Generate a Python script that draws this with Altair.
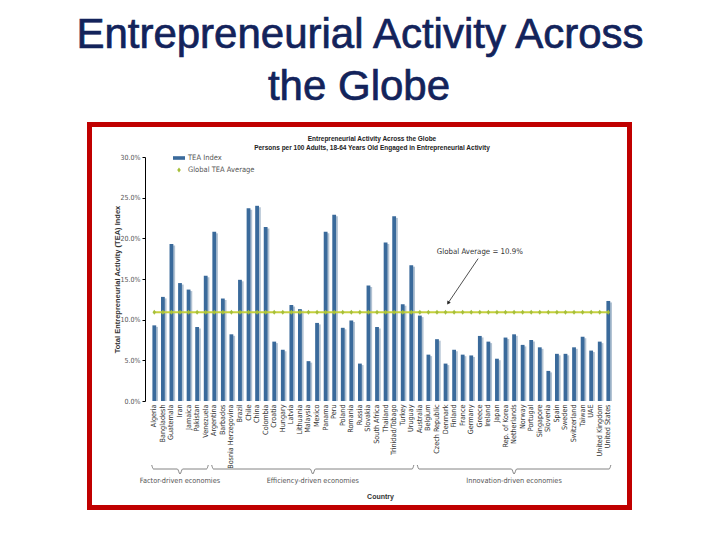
import altair as alt
import pandas as pd

# ---------------- data ----------------
countries = [
    "Algeria", "Bangladesh", "Guatemala", "Iran", "Jamaica", "Pakistan", "Venezuela",
    "Argentina", "Barbados", "Bosnia Herzegovina", "Brazil", "Chile", "China", "Colombia",
    "Croatia", "Hungary", "Latvia", "Lithuania", "Malaysia", "Mexico", "Panama", "Peru",
    "Poland", "Romania", "Russia", "Slovakia", "South Africa", "Thailand", "Trinidad/Tobago",
    "Turkey", "Uruguay",
    "Australia", "Belgium", "Czech Republic", "Denmark", "Finland", "France", "Germany",
    "Greece", "Ireland", "Japan", "Rep. of Korea", "Netherlands", "Norway", "Portugal",
    "Singapore", "Slovenia", "Spain", "Sweden", "Switzerland", "Taiwan", "UAE",
    "United Kingdom", "United States",
]
tea = [
    9.3, 12.8, 19.3, 14.5, 13.7, 9.1, 15.4,
    20.8, 12.6, 8.2, 14.9, 23.7, 24.0, 21.4, 7.3, 6.3, 11.8, 11.3, 4.9, 9.6, 20.8, 22.9,
    9.0, 9.9, 4.6, 14.2, 9.1, 19.5, 22.7, 11.9, 16.7,
    10.5, 5.7, 7.6, 4.6, 6.3, 5.7, 5.6, 8.0, 7.3, 5.2, 7.8, 8.2, 6.9, 7.5, 6.6, 3.7, 5.8,
    5.8, 6.6, 7.9, 6.2, 7.3, 12.3,
]
global_avg = 10.9
groups = ["Factor-driven economies", "Efficiency-driven economies", "Innovation-driven economies"]
group_sizes = [7, 24, 23]
series = ["TEA Index", "Global TEA Average"]

# ---------------- layout constants ----------------
N = len(countries)
STEP = 8.566
PO = 0.586
W = STEP * (N + 2 * PO)
H = 244
PAD_L, PAD_T = 137, 149
PAD_R = 704 - PAD_L - W
PAD_B = 524 - PAD_T - H
HALF = 1.9 / STEP     # half bar width, in band units
SHADOW = 1.8 / STEP   # shadow bar shift, in band units

DARK = "#3a6a9b"
LIGHT = "#b3c3d3"
LINE = "#c6d03e"
DOT = "#a6bf3a"
NAVY = "#13235b"
SMALL = "Liberation Sans Narrow, DejaVu Sans Condensed, Liberation Sans"

bars_df = pd.DataFrame({"country": countries, "tea": tea, "series": series[0],
                        "idx": list(range(N))})
avg_df = pd.DataFrame({"country": countries, "avg": [global_avg] * N, "series": series[1]})

xscale = alt.Scale(type="band", domain=countries, paddingInner=0, paddingOuter=PO)
ixscale = alt.Scale(domain=[-0.5 - PO, N - 0.5 + PO], nice=False, zero=False)
yscale = alt.Scale(domain=[0, 30], nice=False, zero=True)
color_scale = alt.Scale(domain=series, range=[DARK, DOT])
shape_scale = alt.Scale(domain=series, range=["M-1,-0.3H1V0.3H-1Z", "M0,-0.42L0.3,0L0,0.42L-0.3,0Z"])
leg = alt.Legend(
    title=None, orient="none", legendX=28, legendY=-5, symbolSize=144, padding=0,
    rowPadding=2, labelFont=SMALL, labelFontSize=7.5, labelColor="#555", labelOffset=3,
    symbolStrokeWidth=0,
)

xenc = alt.X(
    "country:N", scale=xscale, sort=countries,
    axis=alt.Axis(
        title="Country", labelAngle=-90, labelPadding=3, labelFont=SMALL, labelFontSize=7.2,
        labelColor="#333", domain=False, ticks=False, titleX=235, titleY=95,
        titleBaseline="middle", titleFont="Liberation Sans", titleFontSize=7,
        titleFontWeight="bold", titleColor="#333",
    ),
)
yaxis = alt.Axis(
    title="Total Entrepreneurial Activity (TEA) Index", values=[0, 5, 10, 15, 20, 25, 30],
    labelExpr="format(datum.value, '.1f') + '%'", grid=False, tickSize=3, tickColor="#000",
    domainColor="#000", domainWidth=1, labelPadding=2, labelFont=SMALL, labelFontSize=7,
    labelColor="#555", titleX=-28, titleY=H / 2, titleBaseline="middle",
    titleFont="Liberation Sans", titleFontSize=7.5, titleFontWeight="bold", titleColor="#333",
)


def Y(field):
    return alt.Y(field, scale=yscale, axis=yaxis)


def IX(field):
    return alt.X(field, scale=ixscale, axis=None)


# bars as rects on an index-based x: each bar is centred on its country and
# the pale shadow bar sits slightly to the right and a little lower
light = (
    alt.Chart(bars_df)
    .transform_calculate(x0=f"datum.idx - {HALF} + {SHADOW}", x1=f"datum.idx + {HALF} + {SHADOW}",
                         base="0")
    .mark_rect(yOffset=1.5, color=LIGHT)
    .encode(x=IX("x0:Q"), x2="x1:Q", y=Y("tea:Q"), y2="base:Q")
)
dark = (
    alt.Chart(bars_df)
    .transform_calculate(x0=f"datum.idx - {HALF}", x1=f"datum.idx + {HALF}", base="0")
    .mark_rect()
    .encode(
        x=IX("x0:Q"), x2="x1:Q", y=Y("tea:Q"), y2="base:Q",
        color=alt.Color("series:N", scale=color_scale, legend=leg),
    )
)
bars = alt.layer(light, dark)

line = alt.Chart(avg_df).mark_line(color=LINE, strokeWidth=2).encode(x=xenc, y=Y("avg:Q"))
dots = alt.Chart(avg_df).mark_point(filled=True, size=144, opacity=1).encode(
    x=xenc, y=Y("avg:Q"),
    color=alt.Color("series:N", scale=color_scale, legend=leg),
    shape=alt.Shape("series:N", scale=shape_scale, legend=leg),
)
main = alt.layer(line, dots)

# ---------------- braces / group labels (index-based x) ----------------
rows, lab_rows = [], []
start = 0
for g, n in zip(groups, group_sizes):
    first, last = start, start + n - 1
    L, R = first - 0.3, last + 0.3
    C = (L + R) / 2
    pts = [(L, 308), (L + 0.2, 312), (C - 0.3, 312), (C, 317), (C + 0.3, 312), (R - 0.2, 312), (R, 308)]
    for k, (xi, py) in enumerate(pts):
        rows.append({"group": g, "xi": xi, "py": py, "k": k})
    lab_rows.append({"group": g, "xi": C, "py": 324})
    start += n
brace_df = pd.DataFrame(rows)
glab_df = pd.DataFrame(lab_rows)

braces = alt.Chart(brace_df).mark_line(interpolate="monotone", color="#666", strokeWidth=0.8).encode(
    x=IX("xi:Q"), y=alt.Y("py:Q", scale=None), detail="group:N", order="k:Q",
)
glabels = alt.Chart(glab_df).mark_text(font=SMALL, fontSize=7.3, color="#555", baseline="middle").encode(
    x=IX("xi:Q"), y=alt.Y("py:Q", scale=None), text="group:N",
)

# annotation arrow pointing at the global average line
arrow_df = pd.DataFrame({"xi": [37.8, 34.3], "yv": [global_avg + 6.6, global_avg + 1.15], "k": [0, 1]})
arrow = alt.Chart(arrow_df).mark_line(color="#222", strokeWidth=0.8).encode(
    x=IX("xi:Q"), y=Y("yv:Q"), order="k:Q"
)
head = alt.Chart(arrow_df.iloc[[1]]).mark_point(shape="triangle-down", filled=True, size=16, angle=34,
                                               color="#222", opacity=1).encode(
    x=IX("xi:Q"), y=Y("yv:Q")
)
ann_df = pd.DataFrame({"xi": [38.0], "yv": [global_avg + 7.4], "t": [f"Global Average = {global_avg}%"]})
ann = alt.Chart(ann_df).mark_text(font=SMALL, fontSize=7.8, color="#333", baseline="middle").encode(
    x=IX("xi:Q"), y=Y("yv:Q"), text="t:N"
)

deco = alt.layer(braces, glabels, arrow, head, ann)

# ---------------- slide title, inner title, frame ----------------
one = pd.DataFrame({"a": [0]})
t1 = alt.Chart(one).mark_text(text="Entrepreneurial Activity Across", font="Liberation Sans", fontSize=42,
                              color=NAVY, stroke=NAVY, strokeWidth=0.7,
                              baseline="alphabetic").encode(x=alt.value(215), y=alt.value(-109))
t2 = alt.Chart(one).mark_text(text="the Globe", font="Liberation Sans", fontSize=42,
                              color=NAVY, stroke=NAVY, strokeWidth=0.7,
                              baseline="alphabetic").encode(x=alt.value(214), y=alt.value(-57))
it1 = alt.Chart(one).mark_text(text="Entrepreneurial Activity Across the Globe", font="Liberation Sans",
                               fontSize=6.5, fontWeight="bold", color="#222", baseline="middle").encode(
    x=alt.value(227), y=alt.value(-18))
it2 = alt.Chart(one).mark_text(text="Persons per 100 Adults, 18-64 Years Old Engaged in Entrepreneurial Activity",
                               font="Liberation Sans", fontSize=6.5, fontWeight="bold", color="#222",
                               baseline="middle").encode(x=alt.value(227), y=alt.value(-9))
frame = alt.Chart(one).mark_rect(filled=False, stroke="#c00000", strokeWidth=5).encode(
    x=alt.value(-55.5), x2=alt.value(484.5), y=alt.value(-32.5), y2=alt.value(350.5)
)
texts = alt.layer(frame, t1, t2, it1, it2)

chart = (
    alt.layer(bars, main, deco, texts)
    .resolve_scale(x="independent")
    .properties(
        width=W, height=H,
        autosize=alt.AutoSizeParams(type="none"),
        padding={"left": PAD_L, "top": PAD_T, "right": PAD_R, "bottom": PAD_B},
    )
    .configure_view(stroke=None)
)
chart.save("out.html", embed_options={"renderer": "svg", "actions": False})
